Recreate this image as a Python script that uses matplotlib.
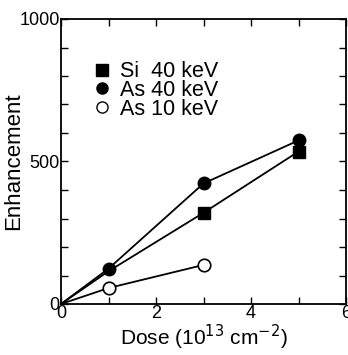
import matplotlib.pyplot as plt
from matplotlib.lines import Line2D
from matplotlib.ticker import MultipleLocator

plt.rcParams['font.family'] = ['Liberation Sans', 'DejaVu Sans']

# Data
dose = [0, 1, 3, 5]
si_40 = [0, 115, 320, 535]
as_40 = [0, 124, 423, 574]
dose_10 = [0, 1, 3]
as_10 = [0, 56, 137]

fig = plt.figure(figsize=(3.48, 3.55), dpi=100)
ax = fig.add_axes([61 / 348, 1 - 304 / 355, 285 / 348, 285 / 355])

# lines and markers
ax.plot(dose, si_40, '-', color='black', lw=1.3, marker='s', ms=9,
        markevery=[2, 3], mfc='black', mec='black', zorder=3)
ax.plot(dose, as_40, '-', color='black', lw=1.3, marker='o', ms=9,
        markevery=[1, 2, 3], mfc='black', mec='black', zorder=3)
ax.plot(dose_10, as_10, '-', color='black', lw=1.3, marker='o', ms=9,
        markevery=[1, 2], mfc='white', mec='black', mew=1.2, zorder=3)

ax.set_xlim(0, 6)
ax.set_ylim(0, 1000)
ax.xaxis.set_major_locator(MultipleLocator(2))
ax.xaxis.set_minor_locator(MultipleLocator(1))
ax.yaxis.set_major_locator(MultipleLocator(500))
ax.yaxis.set_minor_locator(MultipleLocator(100))
ax.tick_params(which='both', direction='in', top=True, right=True,
               width=1.0, labelsize=13, pad=1)
ax.tick_params(which='major', length=5)
ax.tick_params(which='minor', length=5)
for sp in ax.spines.values():
    sp.set_linewidth(1.3)

ax.set_xlabel("Dose (10$^{13}$ cm$^{-2}$)", fontsize=15, labelpad=0)
ax.set_ylabel("Enhancement", fontsize=16)
ax.yaxis.set_label_coords(-0.128, 0.5)

# legend with markers only
handles = [
    Line2D([], [], ls='', marker='s', ms=9, color='black'),
    Line2D([], [], ls='', marker='o', ms=8, color='black'),
    Line2D([], [], ls='', marker='o', ms=8, mfc='white', mec='black'),
]
labels = ["Si  40 keV", "As 40 keV", "As 10 keV"]
ax.legend(handles, labels, loc='upper left', bbox_to_anchor=(0.075, 0.89),
          frameon=False, fontsize=15.5, handlelength=0.8, handletextpad=0.45,
          labelspacing=-0.1, borderpad=0)

fig.savefig("out.png", dpi=100)
